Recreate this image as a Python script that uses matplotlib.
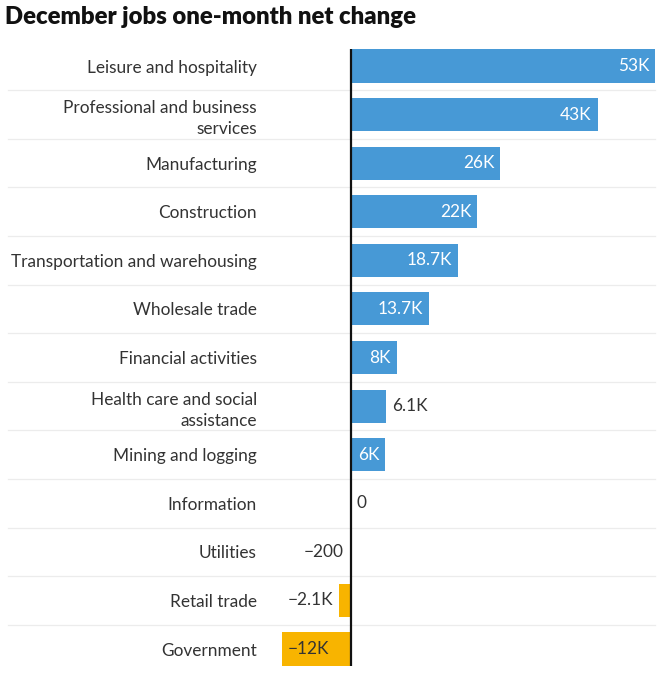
import matplotlib
matplotlib.use("Agg")
import matplotlib.pyplot as plt

categories = [
    "Leisure and hospitality",
    "Professional and business\nservices",
    "Manufacturing",
    "Construction",
    "Transportation and warehousing",
    "Wholesale trade",
    "Financial activities",
    "Health care and social\nassistance",
    "Mining and logging",
    "Information",
    "Utilities",
    "Retail trade",
    "Government",
]
values_k = [53, 43, 26, 22, 18.7, 13.7, 8, 6.1, 6, 0, -0.2, -2.1, -12]
value_labels = ["53K", "43K", "26K", "22K", "18.7K", "13.7K", "8K", "6.1K",
                "6K", "0", "\u2212200", "\u22122.1K", "\u221212K"]

title = "December jobs one-month net change"

BLUE = "#4799d6"
YELLOW = "#f8b400"
TEXT = "#333333"
SEP = "#ececec"
FS = 12.4

plt.rcParams['font.family'] = ['Lato', 'DejaVu Sans']

W, H = 667, 680
fig = plt.figure(figsize=(W / 100, H / 100), dpi=100)

n = len(categories)
pitch = (649 - 66) / (n - 1)
half = 0.35
x0_px, x1_px = 282, 655
top_px = 66 - half * pitch
bot_px = 649 + half * pitch
ax = fig.add_axes([x0_px / W, 1 - bot_px / H, (x1_px - x0_px) / W, (bot_px - top_px) / H])

ys = list(range(n))
colors = [BLUE if v > 0 else YELLOW for v in values_k]
ax.barh(ys, values_k, height=0.68, color=colors, zorder=2)
ax.set_xlim(min(values_k), max(values_k))
ax.set_ylim(n - 1 + half, -half)

for s in ax.spines.values():
    s.set_visible(False)
ax.set_xticks([])
ax.set_yticks(ys)
ax.set_yticklabels(categories, fontsize=FS, color=TEXT, linespacing=1.4)
ax.tick_params(axis='y', length=0, pad=18)

# zero line
ax.plot([0, 0], [n - 1 + half, -half], color="#111111", lw=1.6, zorder=3,
        solid_capstyle='butt', clip_on=False)

# separators
sep_xmin = (8 - x0_px) / (x1_px - x0_px)
for i in range(n - 1):
    ax.axhline(i + 0.5, xmin=sep_xmin, xmax=1.0, color=SEP, lw=0.9,
               clip_on=False, zorder=1)

fig.canvas.draw()
renderer = fig.canvas.get_renderer()
px_per_k = (x1_px - x0_px) / (max(values_k) - min(values_k))
pad_k = 6 / px_per_k
for y, v, lab in zip(ys, values_k, value_labels):
    t = ax.text(0, y, lab, fontsize=FS, va='center')
    w_px = t.get_window_extent(renderer).width
    t.remove()
    bar_px = abs(v) * px_per_k
    fits = bar_px >= w_px + 10
    if v > 0:
        if fits:
            ax.text(v - pad_k, y, lab, fontsize=FS, va='center', ha='right',
                    color='white', zorder=4)
        else:
            ax.text(v + pad_k, y, lab, fontsize=FS, va='center', ha='left',
                    color=TEXT, zorder=4)
    elif v < 0:
        if fits:
            ax.text(v + pad_k, y, lab, fontsize=FS, va='center', ha='left',
                    color=TEXT, zorder=4)
        else:
            ax.text(v - pad_k, y, lab, fontsize=FS, va='center', ha='right',
                    color=TEXT, zorder=4)
    else:
        ax.text(v + pad_k, y, lab, fontsize=FS, va='center', ha='left',
                color=TEXT, zorder=4)

fig.text(5 / W, 1 - 17 / H, title, fontsize=17.2, fontweight='heavy',
         color="#111111", va='center', ha='left')

fig.savefig("out.png", dpi=100)
